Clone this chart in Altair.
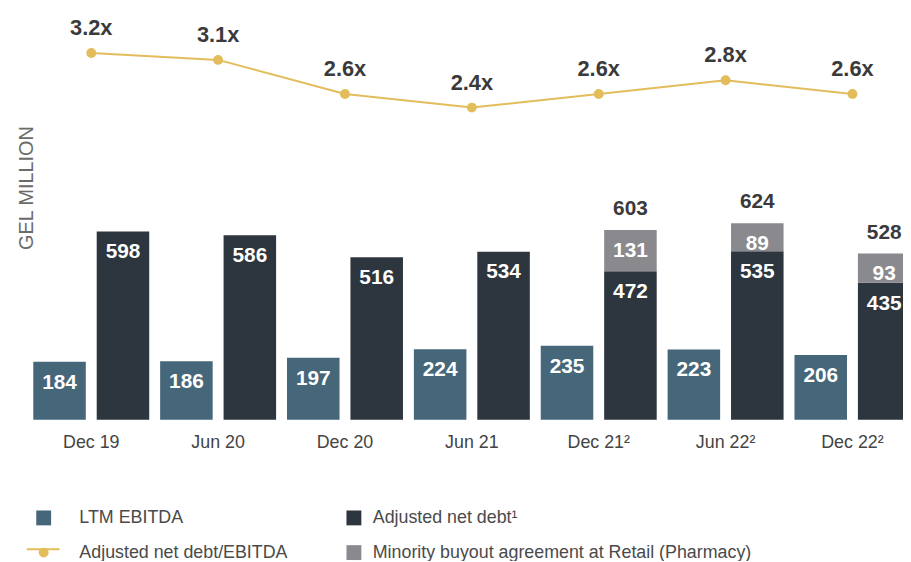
import altair as alt
import pandas as pd

FONT = "Liberation Sans"

periods = ["Dec 19", "Jun 20", "Dec 20", "Jun 21", "Dec 21²", "Jun 22²", "Dec 22²"]
ltm_ebitda = [184, 186, 197, 224, 235, 223, 206]
adj_net_debt = [598, 586, 516, 534, 472, 535, 435]
minority_buyout = [None, None, None, None, 131, 89, 93]
debt_to_ebitda = [3.2, 3.1, 2.6, 2.4, 2.6, 2.8, 2.6]

S_EBITDA = "LTM EBITDA"
S_DEBT = "Adjusted net debt¹"
S_RATIO = "Adjusted net debt/EBITDA"
S_MINOR = "Minority buyout agreement at Retail (Pharmacy)"

C_EBITDA = "#46677a"
C_DEBT = "#2d353e"
C_MINOR = "#8a898e"
GOLD = "#e3bd5b"

bar_series = [S_EBITDA, S_DEBT, S_MINOR]
bar_colors = [C_EBITDA, C_DEBT, C_MINOR]

rows = []
for p, e, d, m in zip(periods, ltm_ebitda, adj_net_debt, minority_buyout):
    rows.append(dict(period=p, group="EBITDA", series=S_EBITDA, order=0, value=e))
    rows.append(dict(period=p, group="Debt", series=S_DEBT, order=0, value=d))
    if m is not None:
        rows.append(dict(period=p, group="Debt", series=S_MINOR, order=1, value=m))
bars_df = pd.DataFrame(rows)

totals_df = pd.DataFrame([
    dict(period=p, group="Debt", total=d + m)
    for p, d, m in zip(periods, adj_net_debt, minority_buyout) if m is not None
])

line_df = pd.DataFrame({"period": periods, "ratio": debt_to_ebitda, "series": S_RATIO})

xscale = alt.Scale(domain=periods, paddingInner=0, paddingOuter=0)
xaxis = alt.Axis(title=None, domain=False, ticks=False, grid=False, labelAngle=0,
                 labelFont=FONT, labelFontSize=18, labelColor="#444444", labelPadding=14)
X = alt.X("period:N", sort=periods, scale=xscale, axis=xaxis)
XOFF = alt.XOffset("group:N", sort=["EBITDA", "Debt"],
                   scale=alt.Scale(domain=["EBITDA", "Debt"], paddingInner=0.172, paddingOuter=0.086))

ybar_scale = alt.Scale(domain=[0, 1300], nice=False, zero=True)
ybar_axis = alt.Axis(title="GEL MILLION", labels=False, ticks=False, domain=False, grid=False,
                     titleFont=FONT, titleFontSize=20, titleFontWeight="normal",
                     titleColor="#6b6b6b", titleX=-1.5, titleY=178.7, titleAngle=270,
                     titleAlign="center", titleBaseline="middle")

common_legend = dict(title=None, orient="none", padding=0, labelLimit=600, symbolOpacity=1,
                     symbolStrokeWidth=0, labelFont=FONT, labelFontSize=18,
                     labelColor="#4a4a4a", rowPadding=17)

# right column of the legend (bar colours)
legend_right = alt.Legend(legendX=320, legendY=503, values=[S_DEBT, S_MINOR],
                          symbolType="square", symbolSize=225, labelOffset=10, **common_legend)
# left column of the legend (EBITDA square + ratio dot)
legend_left = alt.Legend(legendX=7, legendY=503, symbolSize=225, labelOffset=27, **common_legend)

base = alt.Chart(bars_df).transform_stack(
    stack="value", groupby=["period", "group"], as_=["y0", "y1"],
    sort=[alt.SortField("order", order="ascending")],
)

bars = base.mark_bar().encode(
    x=X, xOffset=XOFF,
    y=alt.Y("y1:Q", scale=ybar_scale, axis=ybar_axis),
    y2="y0:Q",
    color=alt.Color("series:N", scale=alt.Scale(domain=bar_series, range=bar_colors),
                    legend=legend_right),
)

bar_text = base.mark_text(dy=21, baseline="middle", align="center", font=FONT, fontSize=21,
                          fontWeight="bold", color="white").encode(
    x=X, xOffset=XOFF,
    y=alt.Y("y1:Q", scale=ybar_scale, axis=ybar_axis),
    text="value:Q",
)

totals = alt.Chart(totals_df).mark_text(dy=-21, baseline="middle", align="center", font=FONT,
                                        fontSize=21, fontWeight="bold", color="#3a3a3a").encode(
    x=X, xOffset=XOFF,
    y=alt.Y("total:Q", scale=ybar_scale, axis=ybar_axis),
    text="total:Q",
)

yline_scale = alt.Scale(domain=[-2.1818, 3.8255], nice=False, zero=False)

line = alt.Chart(line_df).mark_line(strokeWidth=2).encode(
    x=X, y=alt.Y("ratio:Q", scale=yline_scale, axis=None),
    stroke=alt.Stroke("series:N", scale=alt.Scale(domain=[S_RATIO], range=[GOLD]),
                      legend=alt.Legend(legendX=-2, legendY=526, symbolType="stroke",
                                        symbolSize=1089, symbolStrokeWidth=2, labelExpr="''",
                                        title=None, orient="none", padding=0,
                                        symbolOpacity=1, labelFontSize=18)),
)
points = alt.Chart(line_df).mark_point(filled=True, opacity=1).encode(
    x=X, y=alt.Y("ratio:Q", scale=yline_scale, axis=None),
    fill=alt.Fill("series:N", scale=alt.Scale(domain=[S_EBITDA, S_RATIO], range=[C_EBITDA, GOLD]),
                  legend=legend_left),
    shape=alt.Shape("series:N", scale=alt.Scale(domain=[S_EBITDA, S_RATIO], range=["square", "circle"]),
                    legend=legend_left),
    size=alt.Size("series:N", scale=alt.Scale(domain=[S_EBITDA, S_RATIO], range=[225, 100]),
                  legend=legend_left),
)
line_text = alt.Chart(line_df).transform_calculate(
    label="format(datum.ratio, '.1f') + 'x'"
).mark_text(dy=-25, baseline="middle", align="center", font=FONT, fontSize=22,
            fontWeight="bold", color="#3a3a3a").encode(
    x=X, y=alt.Y("ratio:Q", scale=yline_scale, axis=None), text="label:N"
)

bar_layer = alt.layer(bars, bar_text, totals)
line_layer = alt.layer(line, points, line_text)

chart = alt.layer(bar_layer, line_layer).resolve_scale(y="independent").properties(
    width=896, height=413,
    autosize=alt.AutoSizeParams(type="none"),
    padding={"left": 20, "top": 0, "right": -13, "bottom": 140},
    background="white",
).configure_view(stroke=None)

chart.save("out.html", embed_options={"renderer": "svg", "actions": False})
